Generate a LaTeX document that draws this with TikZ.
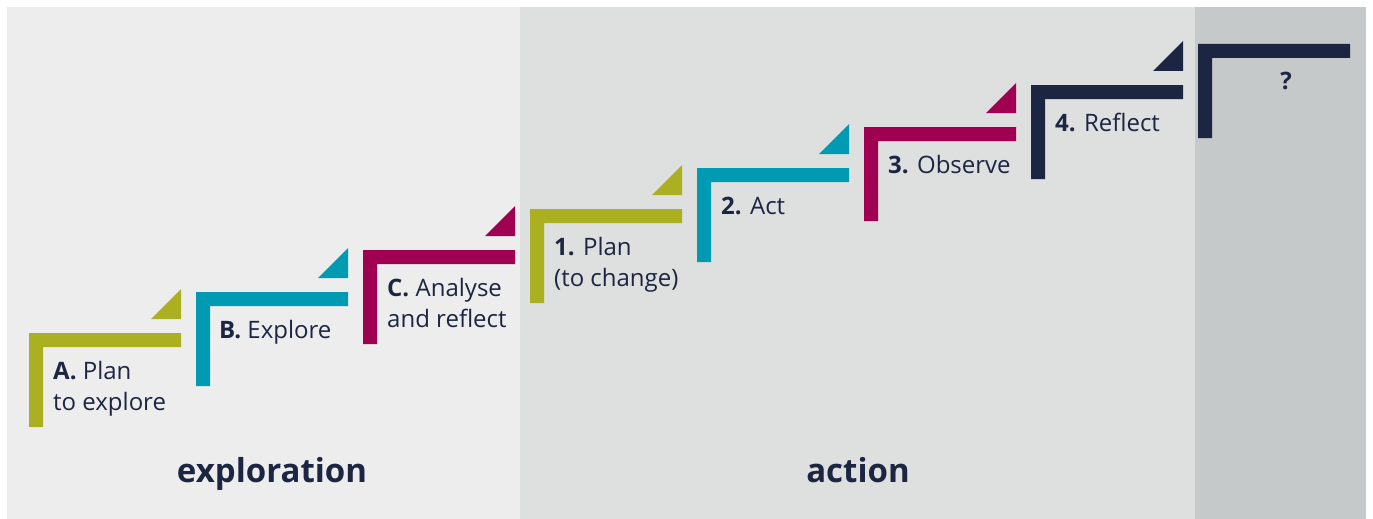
\documentclass[tikz,border=0pt]{standalone}
\usepackage{fontspec}
\setmainfont{Open Sans}
\usepackage{tikz}
\definecolor{olivec}{HTML}{AAB01F}
\definecolor{tealc}{HTML}{009BB3}
\definecolor{plumc}{HTML}{A00052}
\definecolor{navyc}{HTML}{1C2541}
\definecolor{panelA}{HTML}{EDEDED}
\definecolor{panelB}{HTML}{DEDFDF}
\definecolor{panelC}{HTML}{C6C9CA}

\begin{document}
\begin{tikzpicture}[x=1pt, y=-1pt,
    steplabel/.style={anchor=base west, inner sep=0pt, align=left,
        text=navyc, font=\fontsize{24}{31}\selectfont},
    phaselabel/.style={anchor=base, inner sep=0pt, text=navyc,
        font=\fontsize{33}{40}\selectfont\bfseries}]
\useasboundingbox (0,0) rectangle (1373,519);
\fill [white] (0,0) rectangle (1373,519);
\fill [panelA] (7,7) rectangle (520,519);
\fill [panelB] (520,7) rectangle (1195,519);
\fill [panelC] (1195,7) rectangle (1366,519);
% exploration steps
\fill [olivec] (29,333) rectangle ++(152,14) (29,333) rectangle ++(14,94)
    (151,319) -- ++(30,0) -- ++(0,-30) -- cycle;
\fill [tealc] (196,292) rectangle ++(152,14) (196,292) rectangle ++(14,94)
    (318,278) -- ++(30,0) -- ++(0,-30) -- cycle;
\fill [plumc] (363,250) rectangle ++(152,14) (363,250) rectangle ++(14,94)
    (485,236) -- ++(30,0) -- ++(0,-30) -- cycle;
% action steps
\fill [olivec] (530,209) rectangle ++(152,14) (530,209) rectangle ++(14,94)
    (652,195) -- ++(30,0) -- ++(0,-30) -- cycle;
\fill [tealc] (697,168) rectangle ++(152,14) (697,168) rectangle ++(14,94)
    (819,154) -- ++(30,0) -- ++(0,-30) -- cycle;
\fill [plumc] (864,127) rectangle ++(152,14) (864,127) rectangle ++(14,94)
    (986,113) -- ++(30,0) -- ++(0,-30) -- cycle;
\fill [navyc] (1031,85) rectangle ++(152,14) (1031,85) rectangle ++(14,94)
    (1153,71) -- ++(30,0) -- ++(0,-30) -- cycle;
\fill [navyc] (1198,44) rectangle ++(152,14) (1198,44) rectangle ++(14,94);
% base of a two-line label is its second line
\node [steplabel] (labA) at (53,410) {\textbf{A.} Plan\\to explore};
\node [steplabel] (labB) at (219,338) {\textbf{B.} Explore};
\node [steplabel] (labC) at (387,327) {\textbf{C.} Analyse\\and reflect};
\node [steplabel] (lab1) at (554,286) {\textbf{1.} Plan\\(to change)};
\node [steplabel] (lab2) at (721,214) {\textbf{2.} Act};
\node [steplabel] (lab3) at (888,173) {\textbf{3.} Observe};
\node [steplabel] (lab4) at (1055,131) {\textbf{4.} Reflect};
\node [steplabel, anchor=base, font=\fontsize{24}{31}\selectfont\bfseries]
    (query) at (1286,89) {?};
\node [phaselabel] (explore) at (272,482) {exploration};
\node [phaselabel] (action) at (858,482) {action};
\end{tikzpicture}
\end{document}
